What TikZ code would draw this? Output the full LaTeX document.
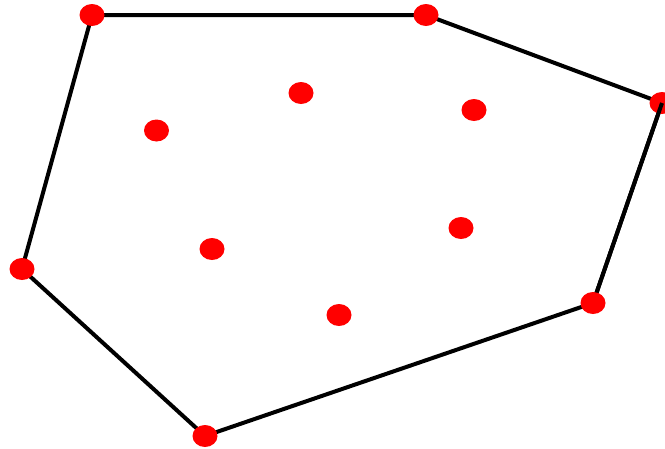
\documentclass[tikz,border=0pt]{standalone}
\usetikzlibrary{shapes.geometric}
\begin{document}
\begin{tikzpicture}[x=1pt,y=-1pt,
  pt/.style={ellipse,fill=red,minimum width=25pt,minimum height=22pt,inner sep=0pt},
  hull/.style={line width=4pt,black}]
\useasboundingbox (0,0) rectangle (665,448);
\coordinate (h1) at (92,15);
\coordinate (h2) at (426,15);
\coordinate (h3) at (662,103);
\coordinate (h4) at (593,303);
\coordinate (h5) at (205,436);
\coordinate (h6) at (22,269);
\draw[hull] (h1) -- (h2) -- (h3) -- (h4) -- (h5) -- (h6) -- cycle;
\node[pt] (p1) at (h1) {};
\node[pt] (p2) at (h2) {};
\node[pt] (p3) at (h3) {};
\node[pt] (p5) at (h5) {};
\node[pt] (p6) at (h6) {};
\node[pt] (q1) at (301,93) {};
\node[pt] (q2) at (474,110) {};
\node[pt] (q3) at (156.5,130.5) {};
\node[pt] (q4) at (212,249) {};
\node[pt] (q5) at (461,228) {};
\node[pt] (q6) at (339,315) {};
\draw[hull] (h3) -- (h4);
\node[pt] (p4) at (h4) {};
\end{tikzpicture}
\end{document}
